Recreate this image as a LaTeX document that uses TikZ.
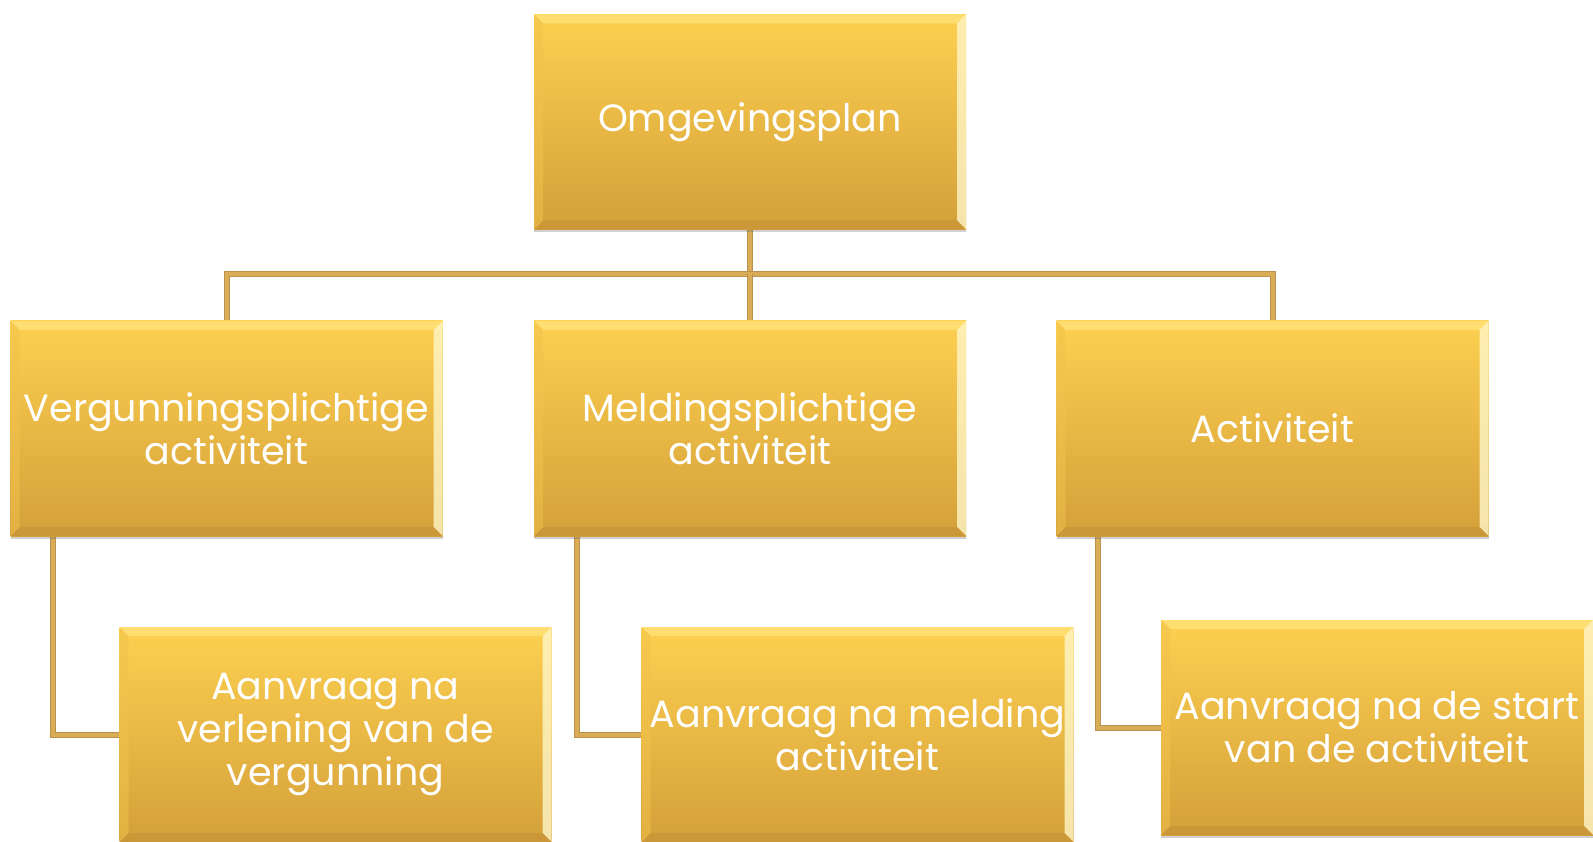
\documentclass[tikz,border=0pt]{standalone}
\usepackage{fontspec}
\setmainfont{Poppins}
\usetikzlibrary{shadows,backgrounds}
\definecolor{goldtop}{HTML}{FDD050}
\definecolor{goldbot}{HTML}{D4A03A}
\definecolor{bevtop}{HTML}{FFE57E}
\definecolor{bevright}{HTML}{FFF6C8}
\definecolor{bevleft}{HTML}{F2C24C}
\definecolor{bevbot}{HTML}{C38E36}
\definecolor{linefill}{HTML}{D8AD55}
\definecolor{lineedge}{HTML}{B8924E}
\newcommand{\bvw}{9pt}
\tikzset{
  goldbox/.style={rectangle, minimum width=432pt, minimum height=215pt, inner sep=0pt,
    top color=goldtop, bottom color=goldbot, text=white, align=center,
    font=\fontsize{38}{43}\selectfont,
    drop shadow={shadow xshift=0pt, shadow yshift=-3pt, opacity=0.3, fill=black!60},
    path picture={
      \fill[bevtop,opacity=0.7] (path picture bounding box.north west) -- (path picture bounding box.north east)
        -- ([xshift=-\bvw,yshift=-\bvw]path picture bounding box.north east) -- ([xshift=\bvw,yshift=-\bvw]path picture bounding box.north west) -- cycle;
      \fill[bevright,opacity=0.8] (path picture bounding box.north east) -- (path picture bounding box.south east)
        -- ([xshift=-\bvw,yshift=\bvw]path picture bounding box.south east) -- ([xshift=-\bvw,yshift=-\bvw]path picture bounding box.north east) -- cycle;
      \fill[bevbot,opacity=0.5] (path picture bounding box.south west) -- (path picture bounding box.south east)
        -- ([xshift=-\bvw,yshift=\bvw]path picture bounding box.south east) -- ([xshift=\bvw,yshift=\bvw]path picture bounding box.south west) -- cycle;
      \fill[bevleft,opacity=0.5] (path picture bounding box.north west) -- (path picture bounding box.south west)
        -- ([xshift=\bvw,yshift=\bvw]path picture bounding box.south west) -- ([xshift=\bvw,yshift=-\bvw]path picture bounding box.north west) -- cycle;
    }},
  conn/.style={draw=lineedge, line width=1pt, double=linefill, double distance=4pt},
  boxtext/.style={yshift=-3pt}
}
\begin{document}
\begin{tikzpicture}[x=1pt,y=-1pt]
\useasboundingbox (0,0) rectangle (1593,842);
\node[goldbox] (om) at (750,122) {Omgevingsplan};
\node[goldbox] (vp) at (226.5,428.5) {Vergunningsplichtige\\activiteit};
\node[goldbox] (mp) at (750,428.5) {Meldingsplichtige\\activiteit};
\node[goldbox] (ac) at (1272.5,428.5) {Activiteit};
\node[goldbox] (av) at (335.5,734.5) {Aanvraag na\\verlening van de\\vergunning};
\node[goldbox] (am) at (857.5,734.5) {Aanvraag na melding\\activiteit};
\node[goldbox] (as) at (1377,727.5) {Aanvraag na de start\\van de activiteit};
\coordinate (bar) at (750,274);
\begin{scope}[on background layer]
\fill[white] (0,0) rectangle (1593,842);
\draw[conn] (om.south) -- (bar);
\draw[conn] (vp.north) |- (bar) -| (ac.north);
\draw[conn] (bar) -- (mp.north);
\draw[conn] ([xshift=43pt]vp.south west) |- (av.west);
\draw[conn] ([xshift=43pt]mp.south west) |- (am.west);
\draw[conn] ([xshift=42pt]ac.south west) |- (as.west);
\end{scope}
\end{tikzpicture}
\end{document}
